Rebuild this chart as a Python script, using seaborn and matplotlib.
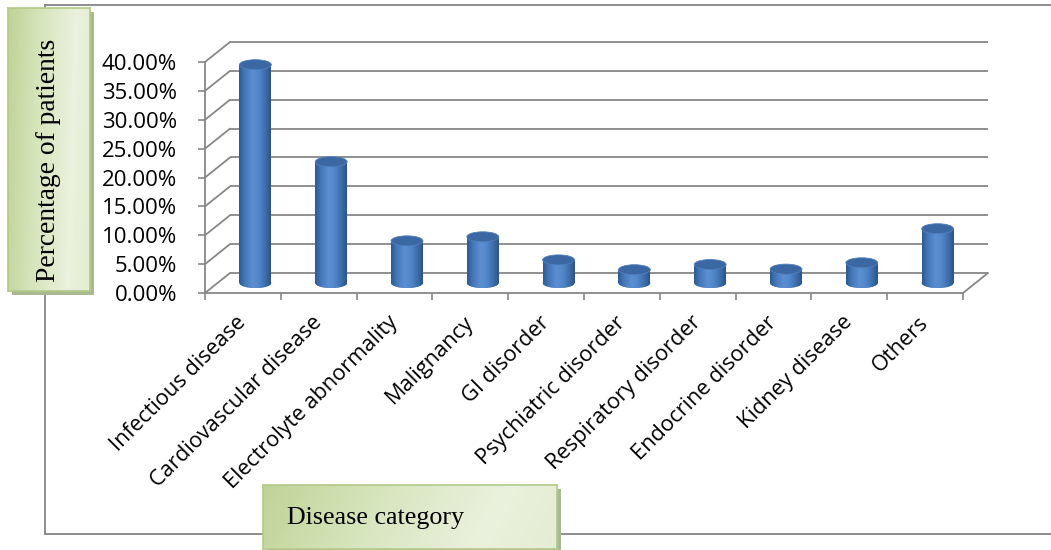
import numpy as np
import pandas as pd
import matplotlib
matplotlib.use("Agg")
import matplotlib.pyplot as plt
import seaborn as sns
from matplotlib.patches import Ellipse, Rectangle
from matplotlib.lines import Line2D
from matplotlib.colors import LinearSegmentedColormap

# ---------------- data ----------------
categories = ["Infectious disease", "Cardiovascular disease", "Electrolyte abnormality",
              "Malignancy", "GI disorder", "Psychiatric disorder", "Respiratory disorder",
              "Endocrine disorder", "Kidney disease", "Others"]
percentages = [37.8, 21.0, 7.3, 8.0, 4.0, 2.3, 3.2, 2.4, 3.5, 9.4]
y_ticks = [0, 5, 10, 15, 20, 25, 30, 35, 40]
y_tick_labels = [f"{t:.2f}%" for t in y_ticks]
y_title = "Percentage of patients"
x_title = "Disease category"

# ---------------- style ----------------
W, H, DPI = 1051, 550, 100
GRID = "#878787"
sns.set_theme(style="white")
plt.rcParams["font.family"] = ["Open Sans", "DejaVu Sans"]

fig = plt.figure(figsize=(W / DPI, H / DPI), dpi=DPI)
fig.patch.set_facecolor("white")


def fx(px):
    return px / W


def fy(py):
    return 1 - py / H


# outer frame of the chart
for xs, ys in [((45, W), (5, 5)), ((45, 45), (5, 534)), ((45, W), (534, 534))]:
    fig.add_artist(Line2D([fx(x) for x in xs], [fy(y) for y in ys], transform=fig.transFigure,
                          color="#858585", lw=1.3, zorder=0))

# front plane of the 3-D plot
ax = fig.add_axes([fx(205), fy(293), fx(963) - fx(205), fy(62) - fy(293)])
ax.set_facecolor("none")
n = len(categories)

df = pd.DataFrame({"category": categories, "pct": percentages})
BAR_W = 0.42
sns.barplot(data=df, x="category", y="pct", order=categories, width=BAR_W,
            color="#4a7ebb", saturation=1, linewidth=0, ax=ax, zorder=3)
ax.set_xlim(-0.5, n - 0.5)
ax.set_ylim(0, 40)
ax.set_xlabel("")
ax.set_ylabel("")

# depth of the 3-D box in data units
DEPTH_PX = (25, 20)
p0 = ax.transData.transform((0, 0))
p1 = ax.transData.transform((1, 1))
ddx = DEPTH_PX[0] / (p1[0] - p0[0])
ddy = DEPTH_PX[1] / (p1[1] - p0[1])
ell_h = 10 / (p1[1] - p0[1])

# back wall gridlines + side wall diagonals
for t in y_ticks:
    ax.plot([-0.5 + ddx, n - 0.5 + ddx], [t + ddy, t + ddy], color=GRID, lw=1.3,
            clip_on=False, zorder=1, solid_capstyle="butt")
    ax.plot([-0.5, -0.5 + ddx], [t, t + ddy], color=GRID, lw=1.3, clip_on=False, zorder=1)
# floor right edge
ax.plot([n - 0.5, n - 0.5 + ddx], [0, ddy], color=GRID, lw=1.3, clip_on=False, zorder=1)

# cylinders
cyl_cmap = LinearSegmentedColormap.from_list(
    "cyl", [(0.0, "#2d5a91"), (0.18, "#4477b8"), (0.42, "#5b8fd2"),
            (0.62, "#5187ca"), (0.85, "#3b6aa6"), (1.0, "#2b5487")])
grad = np.linspace(0, 1, 256)[None, :]
for patch in list(ax.patches):
    x0 = patch.get_x() + ddx / 2
    w = patch.get_width()
    h = patch.get_height()
    y0 = ddy / 2
    patch.set_x(x0)
    patch.set_y(y0)
    cx = x0 + w / 2
    # rounded bottom
    bot = Ellipse((cx, y0), w, ell_h, facecolor="#4477b5", edgecolor="none", zorder=2.9,
                  clip_on=False)
    ax.add_patch(bot)
    im = ax.imshow(grad, cmap=cyl_cmap, extent=[x0, x0 + w, y0 - ell_h, y0 + 1],
                   aspect="auto", zorder=2.95, interpolation="bilinear")
    im.set_clip_path(bot)
    im2 = ax.imshow(grad, cmap=cyl_cmap, extent=[x0, x0 + w, y0, y0 + h],
                    aspect="auto", zorder=3.1, interpolation="bilinear")
    im2.set_clip_path(patch)
    top = Ellipse((cx, y0 + h), w, ell_h, facecolor="#3b68a2", edgecolor="#4f7fbd",
                  lw=0.6, zorder=3.3, clip_on=False)
    ax.add_patch(top)

ax.set_xlim(-0.5, n - 0.5)
ax.set_ylim(0, 40)

# axes / ticks
for side in ["top", "right"]:
    ax.spines[side].set_visible(False)
for side in ["left", "bottom"]:
    ax.spines[side].set_visible(True)
    ax.spines[side].set_color(GRID)
    ax.spines[side].set_linewidth(1.3)
    ax.spines[side].set_zorder(1)

ax.set_yticks(y_ticks, y_tick_labels)
ax.tick_params(axis="y", left=True, length=5, width=1.2, color=GRID, pad=15,
               labelsize=16, labelcolor="black")
ax.set_xticks(range(n), categories, rotation=45, ha="right", va="center",
              rotation_mode="anchor")
ax.set_xticks(np.arange(-0.5, n, 1.0), minor=True)
ax.tick_params(axis="x", which="major", bottom=False, length=0, pad=19, labelsize=15.7,
               labelcolor="black")
ax.tick_params(axis="x", which="minor", bottom=True, length=5, width=1.2, color=GRID)

# ---------------- title boxes ----------------
green_cmap = LinearSegmentedColormap.from_list(
    "green", [(0.0, "#bfd396"), (0.35, "#d6e4bb"), (0.75, "#eaf1dd"), (1.0, "#e4edd2")])


def label_box(x0, y0, x1, y1, text, rotation, tx, ty, ha, size):
    fig.add_artist(Rectangle((fx(x0 + 4), fy(y1 + 4)), fx(x1) - fx(x0), fy(y0) - fy(y1),
                             transform=fig.transFigure, facecolor="#a9b992",
                             edgecolor="none", zorder=5))
    bax = fig.add_axes([fx(x0), fy(y1), fx(x1) - fx(x0), fy(y0) - fy(y1)], zorder=6)
    gx = np.linspace(0, 1, 200)[None, :]
    gy = np.linspace(0, 1, 60)[:, None]
    g = np.clip(gx * 0.9 + 0.1 * gy, 0, 1)
    bax.imshow(g, cmap=green_cmap, extent=[0, 1, 0, 1], aspect="auto",
               interpolation="bilinear")
    bax.set_xticks([])
    bax.set_yticks([])
    for s in bax.spines.values():
        s.set_visible(True)
        s.set_color("#b3ca89")
        s.set_linewidth(1.2)
    bax.text(tx, ty, text, rotation=rotation, ha=ha, va="center",
             family=["Liberation Serif", "DejaVu Serif"], fontsize=size, color="black",
             transform=bax.transAxes)


label_box(8, 8, 90, 291, y_title, 90, 0.5, 0.46, "center", 19.8)
label_box(263, 485, 557, 549, x_title, 0, 0.08, 0.48, "left", 18.7)

fig.savefig("out.png", dpi=DPI, facecolor="white")
